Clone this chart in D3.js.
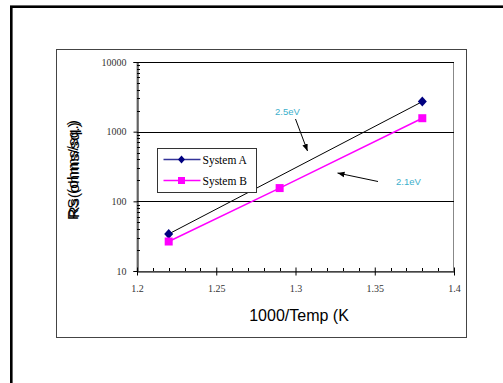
<!DOCTYPE html>
<html>
  <head>
    <meta charset="utf-8"/>
    <title>Sheet resistance vs 1000/T</title>
    <script src="https://cdnjs.cloudflare.com/ajax/libs/d3/7.8.5/d3.min.js"></script>
    <style>
      body { margin: 0; background: #fff; }
    </style>
  </head>
  <body>
    <script>

      // data
      var tempA = [1.22, 1.38];
      var rsA = [34, 2700];
      var tempB = [1.22, 1.29, 1.38];
      var rsB = [26.5, 155, 1560];
      var xTicks = [1.2, 1.25, 1.3, 1.35, 1.4];
      var yTicks = [10, 100, 1000, 10000];
      var seriesNames = ["System A", "System B"];

      var width = 503, height = 383;
      var plot = { left: 137, top: 62, right: 454, bottom: 271 };
      var serif = "'Liberation Serif', 'Times New Roman', serif";
      var sans = "'Liberation Sans', Arial, sans-serif";

      var svg = d3.select("body").append("svg")
        .attr("width", width)
        .attr("height", height);

      // outer page frame (runs off the window)
      svg.append("rect")
        .attr("x", 11.3).attr("y", 6.7)
        .attr("width", 600).attr("height", 500)
        .attr("fill", "none").attr("stroke", "#000").attr("stroke-width", 2.6);

      // chart frame
      svg.append("rect")
        .attr("x", 56.5).attr("y", 49.5)
        .attr("width", 410).attr("height", 288)
        .attr("fill", "#fff").attr("stroke", "#444").attr("stroke-width", 1);

      var xScale = d3.scaleLinear().domain([1.2, 1.4]).range([plot.left, plot.right]);
      var yScale = d3.scaleLog().domain([10, 10000]).range([plot.bottom, plot.top]);

      // plot area border
      svg.append("rect")
        .attr("x", plot.left).attr("y", plot.top + 0.5)
        .attr("width", plot.right - plot.left - 0.5).attr("height", plot.bottom - plot.top)
        .attr("fill", "none").attr("stroke", "#888");

      // gridlines
      svg.selectAll("line.grid").data(yTicks.slice(1)).enter().append("line")
        .attr("class", "grid")
        .attr("x1", plot.left).attr("x2", plot.right)
        .attr("y1", function (d){ return Math.round(yScale(d)) + 0.5; })
        .attr("y2", function (d){ return Math.round(yScale(d)) + 0.5; })
        .attr("stroke", "#000");

      // y minor ticks (inside)
      var yMinor = [];
      [10, 100, 1000].forEach(function (dec){
        for (var k = 2; k <= 9; k++) yMinor.push(dec * k);
      });
      svg.selectAll("line.yminor").data(yMinor).enter().append("line")
        .attr("class", "yminor")
        .attr("x1", plot.left).attr("x2", plot.left + 3)
        .attr("y1", function (d){ return Math.round(yScale(d)) + 0.5; })
        .attr("y2", function (d){ return Math.round(yScale(d)) + 0.5; })
        .attr("stroke", "#000");

      // x minor ticks (inside)
      var xMinor = d3.range(1.21, 1.4, 0.01).filter(function (d){
        return Math.abs(d * 20 - Math.round(d * 20)) > 1e-6;
      });
      svg.selectAll("line.xminor").data(xMinor).enter().append("line")
        .attr("class", "xminor")
        .attr("x1", function (d){ return Math.round(xScale(d)) + 0.5; })
        .attr("x2", function (d){ return Math.round(xScale(d)) + 0.5; })
        .attr("y1", plot.bottom).attr("y2", plot.bottom - 3)
        .attr("stroke", "#000");

      var yAxis = d3.axisLeft(yScale)
        .tickValues(yTicks)
        .tickFormat(d3.format("d"))
        .tickSize(4)
        .tickPadding(7);
      var gy = svg.append("g")
        .attr("transform", "translate(" + (plot.left + 0.5) + ",0)")
        .call(yAxis);
      gy.select(".domain").attr("stroke", "#000");

      var xAxis = d3.axisBottom(xScale)
        .tickValues(xTicks)
        .tickFormat(function (d){ return String(d); })
        .tickSizeInner(4)
        .tickSizeOuter(0)
        .tickPadding(9);
      var gx = svg.append("g")
        .attr("transform", "translate(0," + (plot.bottom + 0.5) + ")")
        .call(xAxis);
      gx.selectAll(".tick line").attr("y1", -4);

      [gx, gy].forEach(function (g){
        g.attr("font-family", serif).attr("font-size", 10);
        g.selectAll(".tick text").attr("fill", "#333");
      });

      // series lines
      var lineA = d3.line()
        .x(function (d, i){ return xScale(tempA[i]); })
        .y(function (d){ return yScale(d); });
      var lineB = d3.line()
        .x(function (d, i){ return xScale(tempB[i]); })
        .y(function (d){ return yScale(d); });

      svg.append("path").attr("d", lineA(rsA))
        .attr("fill", "none").attr("stroke", "#000").attr("stroke-width", 1);
      svg.append("path").attr("d", lineB(rsB))
        .attr("fill", "none").attr("stroke", "#ff00ff").attr("stroke-width", 1.5);

      var diamond = "M0,-5 L4.5,0 L0,5 L-4.5,0 Z";

      svg.selectAll("path.ptA").data(rsA).enter().append("path")
        .attr("class", "ptA")
        .attr("d", diamond)
        .attr("transform", function (d, i){ return "translate(" + xScale(tempA[i]) + "," + yScale(d) + ")"; })
        .attr("fill", "#000080");

      svg.selectAll("rect.ptB").data(rsB).enter().append("rect")
        .attr("class", "ptB")
        .attr("x", function (d, i){ return xScale(tempB[i]) - 4; })
        .attr("y", function (d){ return yScale(d) - 4; })
        .attr("width", 8).attr("height", 8)
        .attr("fill", "#ff00ff");

      // legend
      var legend = svg.append("g").attr("transform", "translate(157.5,148.5)");
      legend.append("rect")
        .attr("width", 99).attr("height", 44)
        .attr("fill", "#fff").attr("stroke", "#333");
      var colors = ["#333399", "#ff00ff"];
      seriesNames.forEach(function (name, i){
        var y = 11 + i * 21;
        legend.append("line")
          .attr("x1", 6).attr("x2", 43).attr("y1", y).attr("y2", y)
          .attr("stroke", colors[i]).attr("stroke-width", 1.5);
        if (i == 0) {
          legend.append("path").attr("d", "M0,-4 L3.5,0 L0,4 L-3.5,0 Z")
            .attr("transform", "translate(24," + y + ")")
            .attr("fill", "#000080");
        } else {
          legend.append("rect")
            .attr("x", 20.5).attr("y", y - 3.5).attr("width", 7).attr("height", 7)
            .attr("fill", "#ff00ff");
        }
        legend.append("text")
          .attr("x", 45).attr("y", y + 4)
          .style("font-family", serif)
          .style("font-size", "11.5px")
          .text(name);
      });

      // arrows and annotations
      svg.append("defs").append("marker")
        .attr("id", "arrow")
        .attr("viewBox", "0 0 10 10")
        .attr("refX", 10).attr("refY", 5)
        .attr("markerWidth", 7).attr("markerHeight", 7)
        .attr("orient", "auto")
        .append("path").attr("d", "M0,1 L10,5 L0,9 z").attr("fill", "#000");

      svg.append("line")
        .attr("x1", 295.5).attr("y1", 119).attr("x2", 307.5).attr("y2", 151)
        .attr("stroke", "#000").attr("marker-end", "url(#arrow)");
      svg.append("line")
        .attr("x1", 378).attr("y1", 181.5).attr("x2", 337.5).attr("y2", 173)
        .attr("stroke", "#000").attr("marker-end", "url(#arrow)");

      svg.append("text")
        .attr("x", 275).attr("y", 115)
        .style("font-family", sans)
        .style("font-size", "9.5px")
        .attr("fill", "#3cb0cc")
        .text("2.5eV");
      svg.append("text")
        .attr("x", 396).attr("y", 185)
        .style("font-family", sans)
        .style("font-size", "9.5px")
        .attr("fill", "#3cb0cc")
        .text("2.1eV");

      // axis titles
      svg.append("text")
        .attr("x", 299).attr("y", 321)
        .attr("text-anchor", "middle")
        .style("font-family", sans)
        .style("font-size", "16px")
        .text("1000/Temp (K");

      // y title is two overlapping strings in the original
      ["RS (ohms/sq.)", "Rs(ohms/sq.)"].forEach(function (t, i){
        svg.append("text")
          .attr("transform", "translate(" + (78 + i * 0.5) + ",170) rotate(-90)")
          .attr("text-anchor", "middle")
          .style("font-family", sans)
          .style("font-size", "15px")
          .attr("textLength", 100 - i * 4)
          .attr("lengthAdjust", "spacingAndGlyphs")
          .text(t);
      });

    </script>
  </body>
</html>
